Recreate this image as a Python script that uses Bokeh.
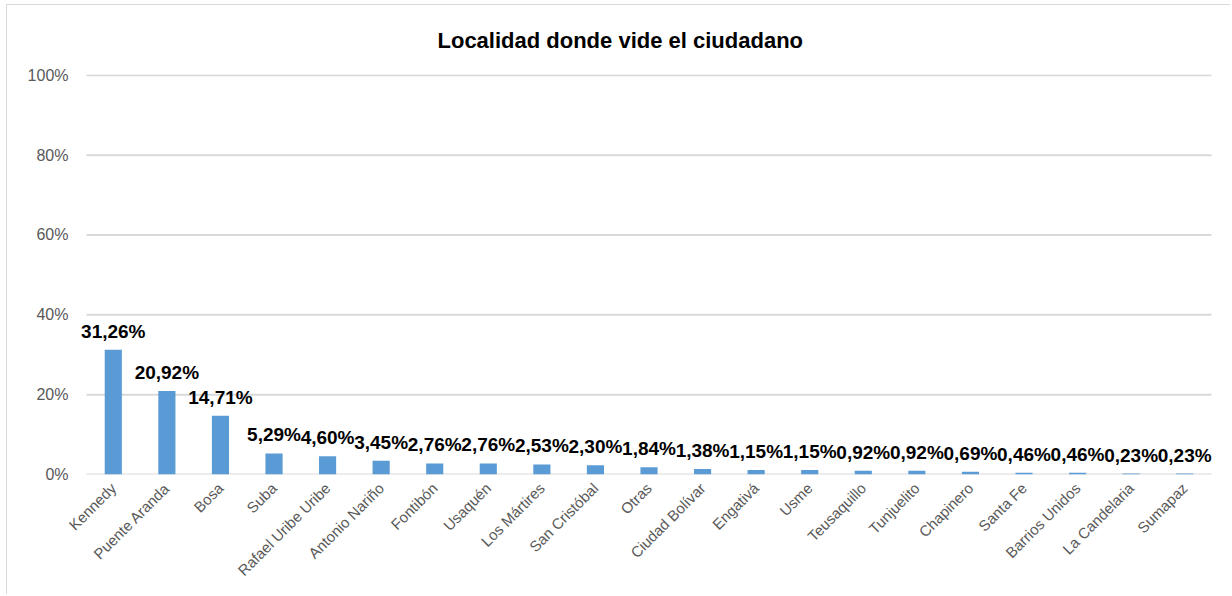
from bokeh.plotting import figure
from bokeh.models import ColumnDataSource, FixedTicker, NumeralTickFormatter, LabelSet, FactorRange, Range1d
from bokeh.core.properties import value
from bokeh.embed import file_html
from bokeh.resources import INLINE
import math

title_text = "Localidad donde vide el ciudadano"

categories = ["Kennedy", "Puente Aranda", "Bosa", "Suba", "Rafael Uribe Uribe",
              "Antonio Nariño", "Fontibón", "Usaquén", "Los Mártires", "San Cristóbal",
              "Otras", "Ciudad Bolívar", "Engativá", "Usme", "Teusaquillo",
              "Tunjuelito", "Chapinero", "Santa Fe", "Barrios Unidos", "La Candelaria",
              "Sumapaz"]
percent_values = [31.26, 20.92, 14.71, 5.29, 4.60, 3.45, 2.76, 2.76, 2.53, 2.30,
                  1.84, 1.38, 1.15, 1.15, 0.92, 0.92, 0.69, 0.46, 0.46, 0.23, 0.23]
y_ticks = [0, 0.2, 0.4, 0.6, 0.8, 1.0]

fractions = [v / 100 for v in percent_values]
labels = [f"{v:.2f}%".replace(".", ",") for v in percent_values]

src = ColumnDataSource(dict(cat=categories, val=fractions, lab=labels))
grid_src = ColumnDataSource(dict(x0=[0] * len(y_ticks),
                                 x1=[len(categories)] * len(y_ticks),
                                 y=y_ticks))

FONT = "Liberation Sans"

p = figure(x_range=FactorRange(*categories, range_padding=0.187,
                               range_padding_units="absolute"),
           y_range=Range1d(0, 1.002),
           width=1224, height=590, output_backend="svg", toolbar_location=None,
           min_border_left=69, min_border_right=10, min_border_top=69,
           min_border_bottom=121,
           title=title_text)
p.styles = {"margin-left": "6px", "margin-top": "4px",
            "border-left": "1px solid #d9d9d9", "border-top": "1px solid #d9d9d9"}
p.outline_line_color = None
p.background_fill_color = "white"
p.border_fill_color = "white"

p.title.align = "left"
p.title.vertical_align = "top"
p.title.offset = 361
p.title.standoff = 40
p.title.text_font = FONT
p.title.text_font_style = "bold"
p.title.text_font_size = "22px"
p.title.text_color = "#000000"

# horizontal gridlines spanning only the category area
p.segment(x0="x0", x1="x1", y0="y", y1="y", source=grid_src,
          line_color="#d9d9d9", line_width=2)

p.vbar(x="cat", top="val", width=0.32, source=src, fill_color="#5b9bd5", line_color=None)

data_labels = LabelSet(x="cat", y="val", text="lab", source=src, text_align="center",
                       text_baseline="alphabetic", y_offset=12, text_font=value(FONT),
                       text_font_style="bold", text_font_size="19px", text_color="#000000")
p.add_layout(data_labels)

p.xgrid.grid_line_color = None
p.ygrid.grid_line_color = None

p.yaxis.ticker = FixedTicker(ticks=y_ticks)
p.yaxis.formatter = NumeralTickFormatter(format="0%")
p.yaxis.axis_line_color = None
p.yaxis.major_tick_line_color = None
p.yaxis.minor_tick_line_color = None
p.yaxis.major_tick_out = 0
p.yaxis.major_tick_in = 0
p.yaxis.major_label_standoff = 8
p.yaxis.major_label_text_font = FONT
p.yaxis.major_label_text_font_size = "16px"
p.yaxis.major_label_text_color = "#595959"

p.xaxis.axis_line_color = None
p.xaxis.major_tick_line_color = None
p.xaxis.minor_tick_line_color = None
p.xaxis.major_tick_out = 0
p.xaxis.major_tick_in = 0
p.xaxis.major_label_orientation = math.pi / 4
p.xaxis.major_label_standoff = 11
p.xaxis.major_label_text_font = FONT
p.xaxis.major_label_text_font_size = "15px"
p.xaxis.major_label_text_color = "#595959"

open("out.html", "w").write(file_html(p, INLINE))
